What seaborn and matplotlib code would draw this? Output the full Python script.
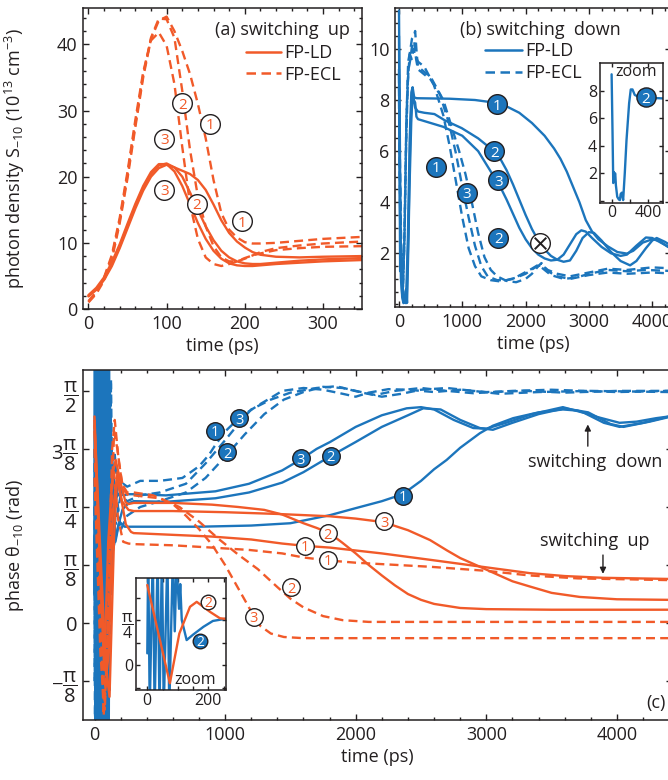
import matplotlib
matplotlib.use('Agg')
import matplotlib.pyplot as plt
from matplotlib.ticker import MultipleLocator, FixedLocator
from matplotlib.lines import Line2D
import seaborn as sns

ORANGE = '#F15A29'
BLUE = '#1C75BC'
INK = '#231F20'

# (a) switching up: photon density S_-10 in 1e13 cm^-3, time in ps
a_t = [0, 10, 20, 30, 40, 50, 60, 70, 80, 90, 100, 110, 120, 130, 140, 150, 160,
       170, 180, 190, 200, 210, 220, 240, 270, 300, 350]
a_ld1 = [1.9, 2.9, 4.4, 6.5, 9.2, 12.2, 15.2, 17.9, 20.0, 21.3, 21.8, 21.4, 20.9, 20.4,
         19.5, 18.0, 15.8, 13.4, 11.5, 10.2, 9.3, 8.6, 8.2, 7.9, 7.8, 7.9, 8.0]
a_ld2 = [2.0, 3.0, 4.6, 6.8, 9.5, 12.6, 15.6, 18.3, 20.4, 21.7, 22.0, 21.4, 20.0, 17.6,
         15.0, 12.5, 10.4, 8.8, 7.8, 7.2, 6.9, 6.8, 6.8, 7.0, 7.3, 7.5, 7.7]
a_ld3 = [2.1, 3.2, 4.8, 7.1, 9.8, 12.9, 15.9, 18.6, 20.7, 21.9, 21.9, 20.8, 18.6, 15.8,
         13.0, 10.6, 8.8, 7.6, 6.9, 6.6, 6.5, 6.5, 6.6, 6.8, 7.0, 7.2, 7.4]
a_ecl1 = [1.0, 2.3, 4.3, 7.5, 13.0, 19.8, 27.5, 35.0, 40.8, 43.6, 44.2, 42.0, 39.0, 35.5,
          31.0, 25.8, 19.5, 14.5, 12.0, 10.8, 10.1, 9.9, 9.9, 10.0, 10.3, 10.6, 10.9]
a_ecl2 = [1.1, 2.5, 4.6, 7.9, 13.4, 20.3, 28.0, 35.4, 41.0, 43.9, 43.8, 41.0, 33.0, 24.0,
          17.0, 12.5, 9.5, 7.8, 7.2, 7.2, 7.6, 8.1, 8.6, 9.2, 9.6, 9.9, 10.2]
a_ecl3 = [1.2, 2.6, 4.8, 8.2, 13.8, 20.8, 28.6, 35.8, 40.6, 41.8, 39.8, 34.0, 24.5, 15.8,
          10.6, 7.8, 6.8, 6.5, 6.8, 7.2, 7.7, 8.1, 8.4, 8.9, 9.2, 9.4, 9.5]
a_lab_t = [196, 139, 97, 155, 120, 97]
a_lab_s = [13.3, 15.9, 18.0, 28.0, 31.1, 25.7]
a_lab_txt = ['1', '2', '3', '1', '2', '3']

# (b) switching down: photon density
b_ld1_t = [0, 15, 30, 50, 70, 90, 110, 140, 170, 195, 215, 240, 280, 800, 1200, 1500,
           1700, 1900, 2100, 2300, 2450, 2550, 2650, 2750, 2850, 2950, 3050, 3150, 3300,
           3450, 3600, 3700, 3850, 4000, 4100, 4250, 4400]
b_ld1 = [11.5, 6.0, 1.5, 0.3, 0.05, 0.2, 0.05, 2.5, 6.5, 8.3, 8.5, 8.1, 8.07, 8.05, 8.0,
         7.9, 7.75, 7.5, 7.1, 6.6, 6.1, 5.7, 5.2, 4.6, 4.0, 3.3, 2.85, 2.55, 2.27, 2.05,
         1.99, 2.1, 2.42, 2.55, 2.5, 2.25, 2.1]
b_ld2_t = [0, 10, 18, 24, 30, 40, 47, 62, 80, 91, 100, 113, 127, 145, 164, 193, 211, 230,
           255, 300, 400, 560, 727, 990, 1250, 1500, 1600, 1700, 1800, 1900, 2000, 2100,
           2200, 2300, 2400, 2500, 2600, 2700, 2800, 2900, 3000, 3080, 3200, 3350, 3500,
           3650, 3750, 3900, 4000, 4070, 4200, 4400]
b_ld2 = [9.2, 5.0, 1.3, 2.1, 1.9, 2.0, 1.15, 0.3, 0.1, 0.06, 0.5, 0.6, 0.06, 2.0, 4.4,
         7.1, 8.1, 8.1, 7.7, 7.55, 7.5, 7.45, 7.2, 6.9, 6.5, 6.0, 5.7, 5.25, 4.7, 4.1,
         3.5, 2.95, 2.5, 2.15, 1.9, 1.75, 1.67, 1.72, 2.1, 2.6, 2.83, 2.8, 2.5, 2.05, 1.7,
         1.53, 1.7, 2.2, 2.5, 2.6, 2.45, 2.15]
b_ld3_t = [0, 15, 30, 50, 70, 95, 120, 150, 180, 205, 230, 255, 275, 300, 700, 1000,
           1250, 1500, 1600, 1700, 1800, 1900, 2000, 2100, 2200, 2300, 2400, 2500, 2600,
           2700, 2800, 2880, 2950, 3050, 3200, 3350, 3500, 3600, 3750, 3900, 4000, 4150,
           4300, 4400]
b_ld3 = [10.5, 4.0, 1.0, 0.4, 0.1, 0.3, 0.1, 3.0, 7.0, 8.2, 8.0, 7.9, 7.35, 7.25, 6.95,
         6.6, 6.0, 5.0, 4.6, 4.1, 3.55, 3.0, 2.55, 2.2, 1.95, 1.8, 1.72, 1.75, 1.95, 2.35,
         2.75, 2.9, 2.85, 2.6, 2.25, 2.0, 1.9, 1.95, 2.3, 2.62, 2.6, 2.4, 2.2, 2.1]
b_ecl1_t = [0, 20, 40, 60, 80, 110, 140, 170, 200, 230, 260, 300, 400, 550, 700, 800,
            900, 1000, 1100, 1200, 1300, 1450, 1600, 1800, 1950, 2100, 2200, 2300, 2400,
            2600, 2800, 3000, 3300, 3600, 3900, 4400]
b_ecl1 = [8.5, 4.0, 1.2, 0.5, 2.0, 6.0, 8.8, 9.8, 9.6, 10.0, 9.7, 9.5, 9.3, 8.6, 7.4,
          6.2, 4.8, 3.4, 2.2, 1.5, 1.1, 0.95, 0.9, 1.0, 1.2, 1.4, 1.55, 1.35, 1.15, 1.0,
          1.05, 1.2, 1.35, 1.3, 1.35, 1.3]
b_ecl2_t = [0, 20, 40, 60, 85, 115, 145, 175, 205, 235, 255, 280, 300, 500, 700, 850,
            950, 1050, 1150, 1250, 1350, 1450, 1550, 1700, 1850, 2000, 2100, 2200, 2250,
            2350, 2500, 2700, 3000, 3300, 3600, 4000, 4400]
b_ecl2 = [9.0, 4.5, 1.5, 0.4, 2.5, 7.0, 9.5, 9.9, 10.4, 10.5, 10.7, 9.8, 9.3, 8.9, 8.0,
          6.8, 6.0, 5.1, 4.0, 2.8, 1.85, 1.35, 1.1, 0.92, 0.87, 1.0, 1.2, 1.5, 1.62, 1.3,
          1.1, 1.0, 1.15, 1.25, 1.2, 1.25, 1.2]
b_ecl3_t = [0, 20, 40, 60, 90, 120, 150, 180, 210, 240, 270, 300, 500, 650, 800, 900,
            1000, 1100, 1200, 1300, 1400, 1550, 1700, 1850, 2000, 2150, 2250, 2350, 2500,
            2700, 3000, 3300, 3600, 4000, 4400]
b_ecl3 = [8.0, 3.5, 1.0, 0.6, 3.0, 7.5, 9.2, 9.6, 10.2, 10.3, 9.6, 9.2, 8.8, 8.2, 7.0,
          5.9, 4.6, 3.4, 2.3, 1.5, 1.1, 0.95, 0.95, 1.05, 1.2, 1.45, 1.55, 1.35, 1.2, 1.1,
          1.25, 1.4, 1.35, 1.45, 1.4]
b_lab_t = [1544, 1507, 1570, 580, 1070, 1570]
b_lab_s = [7.84, 6.0, 4.86, 5.39, 4.38, 2.61]
b_lab_txt = ['1', '2', '3', '1', '3', '2']
b_cross = (2229, 2.4)

# (c) phase theta_-10 in units of pi/8, time in ps
c_ld1_t = [0, 60, 100, 115, 150, 175, 200, 240, 280, 300, 600, 900, 1200, 1437, 1613,
           1804, 2200, 2569, 3000, 3333, 3600, 3893, 4400]
c_ld1 = [3.3, 0.0, -1.0, -1.27, 1.5, 2.6, 2.2, 1.7, 1.57, 1.55, 1.52, 1.49, 1.44, 1.37,
         1.33, 1.30, 1.2, 1.09, 0.96, 0.86, 0.81, 0.78, 0.76]
c_ld2_t = [0, 74, 105, 140, 162, 205, 238, 260, 300, 600, 900, 1100, 1300, 1437, 1600,
           1700, 1800, 1900, 2000, 2100, 2200, 2300, 2400, 2500, 2600, 2800, 3000, 3500,
           4400]
c_ld2 = [3.56, -0.81, 1.4, 2.59, 2.81, 2.37, 2.08, 2.05, 2.07, 2.07, 2.04, 2.0, 1.95,
         1.87, 1.72, 1.64, 1.55, 1.38, 1.2, 1.0, 0.82, 0.65, 0.5, 0.4, 0.33, 0.26, 0.24,
         0.23, 0.23]
c_ld3_t = [0, 50, 90, 110, 140, 170, 210, 260, 300, 600, 1000, 1400, 1800, 2000, 2210,
           2400, 2569, 2700, 2800, 2951, 3100, 3200, 3333, 3500, 3716, 4000, 4400]
c_ld3 = [3.4, 1.0, -0.9, -0.5, 1.9, 2.5, 2.1, 1.95, 1.93, 1.93, 1.91, 1.88, 1.84, 1.8,
         1.74, 1.6, 1.43, 1.25, 1.12, 0.97, 0.82, 0.72, 0.63, 0.52, 0.45, 0.41, 0.40]
c_ecl1_t = [0, 40, 70, 95, 125, 150, 180, 220, 260, 300, 600, 900, 1183, 1437, 1600,
            1784, 2000, 2569, 3000, 3333, 3700, 4400]
c_ecl1 = [3.5, 0.5, -1.6, -0.5, 2.2, 2.6, 1.8, 1.4, 1.37, 1.36, 1.34, 1.3, 1.26, 1.2,
          1.13, 1.08, 1.04, 0.97, 0.9, 0.82, 0.77, 0.74]
c_ecl2_t = [0, 50, 80, 110, 135, 155, 185, 220, 260, 300, 500, 650, 800, 950, 1100, 1250,
            1400, 1500, 1600, 1750, 1900, 2100, 4400]
c_ecl2 = [3.0, 0.0, -1.4, 0.5, 3.0, 3.5, 2.8, 2.3, 2.2, 2.2, 2.15, 2.0, 1.75, 1.45, 1.18,
          0.93, 0.62, 0.42, 0.27, 0.12, 0.05, 0.02, 0.02]
c_ecl3_t = [0, 45, 75, 105, 130, 150, 175, 210, 250, 300, 450, 600, 700, 800, 900, 1000,
            1100, 1200, 1270, 1350, 1450, 1600, 4400]
c_ecl3 = [2.5, -0.5, -1.5, -0.3, 2.0, 3.3, 3.0, 2.4, 2.25, 2.25, 2.2, 2.05, 1.85, 1.62,
          1.35, 1.0, 0.6, 0.2, -0.05, -0.18, -0.24, -0.26, -0.26]
c_bld1_t = [0, 5, 13, 21, 29, 37, 45, 53, 61, 69, 77, 85, 93, 101, 109, 118, 128, 140,
            160, 190, 230, 300, 800, 1200, 1500, 1804, 2000, 2200, 2360, 2500, 2600, 2696,
            2800, 2950, 3050, 3205, 3400, 3586, 3700, 3850, 4020, 4150, 4300, 4400]
c_bld1 = [0.5, 5, -2, 5, -2, 5, -2, 5, -2, 5, -2, 5, -2, 5, -2, 4.0, 0.5, 2.6, 1.4, 1.75,
          1.66, 1.66, 1.66, 1.68, 1.72, 1.86, 1.98, 2.1, 2.22, 2.45, 2.65, 2.81, 3.02,
          3.27, 3.4, 3.53, 3.63, 3.68, 3.66, 3.55, 3.45, 3.47, 3.53, 3.56]
c_bld2_t = [0, 3, 8, 18, 24, 34, 40, 48, 54, 66, 72, 84, 90, 96, 104, 108, 113, 129, 150,
            184, 215, 258, 300, 546, 926, 1183, 1437, 1600, 1810, 2000, 2200, 2400, 2517,
            2650, 2800, 2950, 3050, 3200, 3400, 3600, 3780, 3950, 4050, 4250, 4400]
c_bld2 = [0.52, 5, -2, 5, -2, 5, -2, 5, -2, 5, -2, 5, 1.5, 4.5, 2.5, 3.6, 2.0, 1.11,
          1.35, 1.7, 1.96, 2.06, 2.1, 2.09, 2.15, 2.25, 2.42, 2.6, 2.88, 3.12, 3.38, 3.58,
          3.7, 3.68, 3.5, 3.36, 3.33, 3.45, 3.6, 3.7, 3.63, 3.43, 3.38, 3.47, 3.55]
c_bld3_t = [0, 7, 15, 23, 31, 39, 47, 55, 63, 71, 79, 87, 95, 103, 111, 120, 132, 150,
            180, 220, 260, 300, 546, 926, 1183, 1437, 1580, 1700, 1804, 2000, 2200, 2390,
            2500, 2600, 2750, 2900, 3000, 3150, 3350, 3586, 3750, 3900, 4020, 4200, 4400]
c_bld3 = [1.5, -2, 5, -2, 5, -2, 5, -2, 5, -2, 5, -2, 5, -1, 4.5, 1.0, 3.0, 1.8, 2.4,
          2.2, 2.22, 2.22, 2.2, 2.27, 2.4, 2.63, 2.82, 3.0, 3.12, 3.38, 3.58, 3.7, 3.72,
          3.68, 3.5, 3.36, 3.35, 3.45, 3.6, 3.72, 3.62, 3.45, 3.38, 3.45, 3.56]
c_becl1_t = [0, 4, 12, 20, 28, 36, 44, 52, 60, 68, 76, 84, 92, 100, 108, 116, 126, 138,
             155, 185, 220, 250, 350, 500, 673, 800, 877, 920, 1000, 1055, 1150, 1259,
             1350, 1437, 1600, 1750, 1900, 2000, 2100, 2250, 2400, 2600, 2800, 3000,
             3300, 3600, 4000, 4400]
c_becl1 = [2.0, -2, 5, -2, 5, -2, 5, -2, 5, -2, 5, -2, 5, -2, 5, 0, 4.2, 1.8, 2.9, 2.2,
           2.4, 2.35, 2.45, 2.45, 2.5, 2.7, 2.9, 3.05, 3.3, 3.42, 3.6, 3.76, 3.88, 4.0,
           4.05, 4.02, 3.95, 3.9, 3.97, 4.03, 4.02, 3.98, 4.02, 3.98, 4.0, 3.97, 4.0, 4.0]
c_becl2_t = [0, 10, 18, 26, 34, 42, 50, 58, 66, 74, 82, 90, 98, 106, 115, 125, 140, 165,
             200, 250, 350, 500, 700, 850, 1014, 1150, 1300, 1450, 1600, 1750, 1900,
             2050, 2200, 2350, 2500, 2700, 2900, 3100, 3400, 3800, 4400]
c_becl2 = [-1.0, 5, -2, 5, -2, 5, -2, 5, -2, 5, -2, 5, -2, 4.6, -1.2, 3.5, 1.2, 2.3, 1.6,
           1.85, 2.0, 2.1, 2.25, 2.5, 2.9, 3.25, 3.6, 3.85, 3.98, 4.07, 4.05, 3.97, 3.9,
           3.95, 4.02, 4.05, 4.0, 3.95, 3.98, 4.0, 3.98]
c_becl3_t = [0, 9, 17, 25, 33, 41, 49, 57, 65, 73, 81, 89, 97, 105, 114, 124, 136, 160,
             200, 250, 350, 500, 700, 850, 1000, 1109, 1200, 1350, 1500, 1700, 1850, 2000,
             2150, 2300, 2500, 2700, 2900, 3200, 3500, 4000, 4400]
c_becl3 = [3.0, -2, 5, -2, 5, -2, 5, -2, 5, -2, 5, -2, 5, -0.5, 4.0, 1.2, 2.8, 1.7, 2.2,
           2.1, 2.2, 2.25, 2.4, 2.75, 3.15, 3.45, 3.68, 3.85, 3.97, 4.05, 4.08, 4.0, 3.93,
           4.0, 4.05, 4.0, 3.96, 4.0, 4.02, 3.98, 4.0]
c_blue_lab = [(920, 3.31, '1'), (1109, 3.53, '3'), (1014, 2.94, '2'),
              (1580, 2.84, '3'), (1810, 2.88, '2'), (2360, 2.19, '1')]
c_orange_lab = [(1784, 1.55, '2'), (1613, 1.33, '1'), (2217, 1.75, '3'),
                (1784, 1.09, '1'), (1504, 0.62, '2'), (1218, 0.11, '3')]
c_ticks = [-1, 0, 1, 2, 3, 4]
c_ticklabels = [r'$-\dfrac{\pi}{8}$', '0', r'$\dfrac{\pi}{8}$', r'$\dfrac{\pi}{4}$',
                r'$3\dfrac{\pi}{8}$', r'$\dfrac{\pi}{2}$']

sns.set_style('ticks')
plt.rcParams['font.family'] = ['Open Sans', 'DejaVu Sans']
plt.rcParams['mathtext.fontset'] = 'custom'
plt.rcParams['mathtext.rm'] = 'Open Sans'
plt.rcParams['mathtext.it'] = 'Open Sans'
plt.rcParams['mathtext.bf'] = 'Open Sans:bold'
plt.rcParams['text.color'] = INK
plt.rcParams['axes.labelcolor'] = INK
plt.rcParams['xtick.color'] = INK
plt.rcParams['ytick.color'] = INK
plt.rcParams['axes.edgecolor'] = INK
plt.rcParams['axes.linewidth'] = 1.1

DASH = (0, (3.8, 2.2))


def curve(ax, t, v, color, dashed=False, lw=1.7):
    sns.lineplot(x=t, y=v, ax=ax, color=color, lw=lw, sort=False, estimator=None,
                 linestyle=DASH if dashed else '-')


def badge(ax, t, v, txt, filled, s=170, fs=10.5):
    if filled:
        ax.scatter([t], [v], s=s, facecolor=BLUE, edgecolor=INK, linewidth=1.0, zorder=6)
        ax.text(t, v, txt, color='white', fontsize=fs, ha='center', va='center_baseline', zorder=7)
    else:
        ax.scatter([t], [v], s=s, facecolor='white', edgecolor=INK, linewidth=1.0, zorder=6)
        ax.text(t, v, txt, color=ORANGE, fontsize=fs, ha='center', va='center_baseline', zorder=7)


def style(ax, size=13, major=4, minor=2.5):
    ax.tick_params(which='both', direction='in', top=True, right=True, width=1.0,
                   labelsize=size, pad=4)
    ax.tick_params(which='major', length=major)
    ax.tick_params(which='minor', length=minor)
    for sp in ax.spines.values():
        sp.set_visible(True)


W, H = 668, 780
fig = plt.figure(figsize=(W / 100, H / 100), dpi=100)
ax_a = fig.add_axes([83 / W, 1 - 309 / H, 279 / W, 301 / H])
ax_b = fig.add_axes([395.2 / W, 1 - 307 / H, 275.4 / W, 299 / H])
ax_c = fig.add_axes([83.4 / W, 1 - 720 / H, 588.4 / W, 350 / H])

# ---- panel (a)
for v in [a_ld1, a_ld2, a_ld3]:
    curve(ax_a, a_t, v, ORANGE)
for v in [a_ecl1, a_ecl2, a_ecl3]:
    curve(ax_a, a_t, v, ORANGE, dashed=True)
for t, s, txt in zip(a_lab_t, a_lab_s, a_lab_txt):
    badge(ax_a, t, s, txt, False, s=200, fs=11)
ax_a.set_xlim(-7, 350)
ax_a.set_ylim(0, 45.5)
ax_a.xaxis.set_major_locator(MultipleLocator(100))
ax_a.xaxis.set_minor_locator(MultipleLocator(20))
ax_a.yaxis.set_major_locator(MultipleLocator(10))
ax_a.yaxis.set_minor_locator(MultipleLocator(2))
style(ax_a)
ax_a.set_xlabel('time (ps)', fontsize=13, labelpad=3)
ax_a.set_ylabel(r'photon density S$_{-10}$ (10$^{13}$ cm$^{-3}$)', fontsize=13)
ax_a.yaxis.set_label_coords(-0.2, 0.5)
ax_a.text(0.955, 0.927, '(a) switching  up', transform=ax_a.transAxes, fontsize=13,
          ha='right', va='center')
hd = [Line2D([], [], color=ORANGE, lw=1.8), Line2D([], [], color=ORANGE, lw=1.8, ls=DASH)]
ax_a.legend(hd, ['FP-LD', 'FP-ECL'], loc='upper left', bbox_to_anchor=(0.585, 0.88),
            frameon=False, fontsize=13, handlelength=1.9, handletextpad=0.2,
            labelspacing=0.2, borderpad=0, borderaxespad=0)

# ---- panel (b)
for t, v in [(b_ld1_t, b_ld1), (b_ld2_t, b_ld2), (b_ld3_t, b_ld3)]:
    curve(ax_b, t, v, BLUE)
for t, v in [(b_ecl1_t, b_ecl1), (b_ecl2_t, b_ecl2), (b_ecl3_t, b_ecl3)]:
    curve(ax_b, t, v, BLUE, dashed=True)
for t, s, txt in zip(b_lab_t, b_lab_s, b_lab_txt):
    badge(ax_b, t, s, txt, True, s=200, fs=11)
ax_b.scatter([b_cross[0]], [b_cross[1]], s=200, facecolor='white', edgecolor=INK,
             linewidth=1.0, zorder=6)
ax_b.scatter([b_cross[0]], [b_cross[1]], s=70, marker='x', color=INK, linewidth=1.4, zorder=7)
ax_b.set_xlim(-60, 4290)
ax_b.set_ylim(-0.1, 11.6)
ax_b.xaxis.set_major_locator(MultipleLocator(1000))
ax_b.xaxis.set_minor_locator(MultipleLocator(200))
ax_b.yaxis.set_major_locator(FixedLocator([2, 4, 6, 8, 10]))
ax_b.yaxis.set_minor_locator(MultipleLocator(0.5))
style(ax_b)
ax_b.set_xlabel('time (ps)', fontsize=13, labelpad=3)
ax_b.text(0.527, 0.926, '(b) switching  down', transform=ax_b.transAxes, fontsize=13,
          ha='center', va='center')
hd = [Line2D([], [], color=BLUE, lw=1.8), Line2D([], [], color=BLUE, lw=1.8, ls=DASH)]
ax_b.legend(hd, ['FP-LD', 'FP-ECL'], loc='upper left', bbox_to_anchor=(0.325, 0.885),
            frameon=False, fontsize=13, handlelength=2.05, handletextpad=0.2,
            labelspacing=0.2, borderpad=0, borderaxespad=0)

# inset of (b): zoom on FP-LD curve 2
ins_b = fig.add_axes([600 / W, 1 - 202.7 / H, 62.7 / W, 139.4 / H])
curve(ins_b, b_ld2_t, b_ld2, BLUE)
badge(ins_b, 374, 7.52, '2', True, s=190, fs=11)
ins_b.set_xlim(-128, 563)
ins_b.set_ylim(-0.13, 10)
ins_b.xaxis.set_major_locator(FixedLocator([0, 400]))
ins_b.xaxis.set_minor_locator(FixedLocator([200]))
ins_b.yaxis.set_major_locator(FixedLocator([0, 2, 4, 6, 8]))
ins_b.set_yticklabels(['', '2', '4', '6', '8'])
style(ins_b, size=11.5, major=3, minor=3)
ins_b.tick_params(pad=2)
ins_b.text(276, 9.35, 'zoom', fontsize=11.5, ha='center', va='center')

# ---- panel (c)
for t, v in [(c_becl1_t, c_becl1), (c_becl2_t, c_becl2), (c_becl3_t, c_becl3)]:
    curve(ax_c, t, v, BLUE, dashed=True)
for t, v in [(c_bld1_t, c_bld1), (c_bld2_t, c_bld2), (c_bld3_t, c_bld3)]:
    curve(ax_c, t, v, BLUE)
for t, v in [(c_ecl1_t, c_ecl1), (c_ecl2_t, c_ecl2), (c_ecl3_t, c_ecl3)]:
    curve(ax_c, t, v, ORANGE, dashed=True)
for t, v in [(c_ld1_t, c_ld1), (c_ld2_t, c_ld2), (c_ld3_t, c_ld3)]:
    curve(ax_c, t, v, ORANGE)
for t, u, txt in c_blue_lab:
    badge(ax_c, t, u, txt, True, s=160, fs=10.5)
for t, u, txt in c_orange_lab:
    badge(ax_c, t, u, txt, False, s=160, fs=10.5)
ax_c.set_xlim(-85, 4420)
ax_c.set_ylim(-1.67, 4.36)
ax_c.xaxis.set_major_locator(MultipleLocator(1000))
ax_c.xaxis.set_minor_locator(MultipleLocator(200))
ax_c.yaxis.set_major_locator(FixedLocator(c_ticks))
ax_c.set_yticklabels(c_ticklabels)
style(ax_c)
ax_c.tick_params(axis='y', labelsize=14.5)
ax_c.set_xlabel('time (ps)', fontsize=13, labelpad=3)
ax_c.set_ylabel(r'phase $\theta_{-10}$ (rad)', fontsize=13)
ax_c.yaxis.set_label_coords(-0.097, 0.5)
ax_c.text(4228, -1.38, '(c)', fontsize=13, ha='left', va='center')
ax_c.annotate('', xy=(3777, 3.47), xytext=(3777, 3.0),
              arrowprops=dict(arrowstyle='-|>', color=INK, lw=1.0, mutation_scale=9))
ax_c.text(3830, 2.78, 'switching  down', fontsize=13, ha='center', va='center')
ax_c.annotate('', xy=(3893, 0.8), xytext=(3893, 1.22),
              arrowprops=dict(arrowstyle='-|>', color=INK, lw=1.0, mutation_scale=9))
ax_c.text(3830, 1.42, 'switching  up', fontsize=13, ha='center', va='center')

# inset of (c): zoom on curves 2
ins_c = fig.add_axes([136 / W, 1 - 690 / H, 90 / W, 112 / H])
curve(ins_c, c_bld2_t, c_bld2, BLUE)
curve(ins_c, c_ld2_t, c_ld2, ORANGE)
badge(ins_c, 200, 2.81, '2', False, s=110, fs=10)
badge(ins_c, 173, 1.08, '2', True, s=110, fs=10)
ins_c.set_xlim(-37, 258)
ins_c.set_ylim(-1.11, 3.87)
ins_c.xaxis.set_major_locator(FixedLocator([0, 200]))
ins_c.xaxis.set_minor_locator(FixedLocator([50, 100, 150, 250]))
ins_c.yaxis.set_major_locator(FixedLocator([-1, 0, 1, 2, 3]))
ins_c.set_yticklabels(['', '0', '', r'$\dfrac{\pi}{4}$', ''])
style(ins_c, size=11.5, major=3, minor=3)
ins_c.tick_params(pad=2)
ins_c.text(156, -0.67, 'zoom', fontsize=11.5, ha='center', va='center', zorder=8)

fig.savefig('out.png', dpi=100)
